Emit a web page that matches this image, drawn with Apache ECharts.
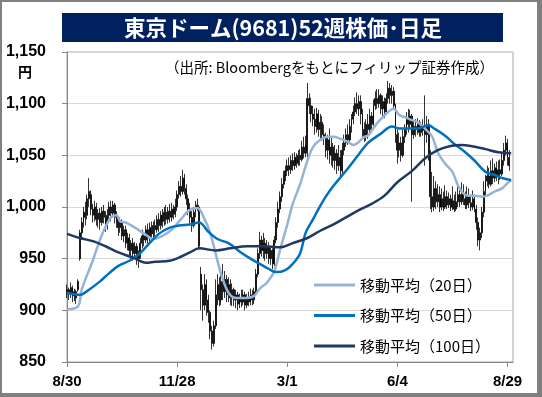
<!DOCTYPE html>
<html>
<head>
<meta charset="utf-8">
<script src="https://cdn.jsdelivr.net/npm/echarts@6/dist/echarts.min.js"></script>
<style>
  html, body { margin: 0; padding: 0; background: #fff; }
  #chart { width: 542px; height: 397px; }
</style>
</head>
<body>
<div id="chart"></div>
<script>
// x axis: one category per trading day, 2018/8/30 .. 2019/8/30 (+ padding)
var dayCount = 244;
var tickEvery = 60;
var tickLabels = ['8/30', '11/28', '3/1', '6/4', '8/29'];

// daily candles [open, close, low, high]
var candlesAutumn = [
  [918,920,912,925],[920,916,910,922],[916,922,912,927],[922,914,908,924],[914,918,909,921],
  [918,912,906,920],[920,928,918,930],[950,975,948,978],[975,985,970,990],[985,995,980,1000],
  [995,990,982,1005],[992,1008,988,1012],[1008,1015,1000,1028],[1012,998,992,1016],[998,992,985,1003],
  [992,1000,986,1006],[1000,988,982,1004],[988,994,980,998],[994,985,978,999],[985,996,982,1000],
  [996,990,984,1002],[990,982,976,996],[982,992,978,998],[992,1000,988,1005],[1000,994,986,1006],
  [994,1002,990,1006],[1002,990,984,1004],[990,985,980,996],[985,980,972,990],[980,985,975,990],
  [985,972,968,988],[972,978,966,982],[978,965,960,982],[965,970,958,975],[970,958,952,974],
  [958,965,950,968],[965,955,948,970],[955,962,950,966],[962,950,944,965],[950,955,941,958],
  [955,965,950,970],[965,972,960,978],[972,968,962,976],[968,978,965,982],[978,970,964,984],
  [970,980,966,985],[980,974,968,986],[974,982,970,986],[982,978,972,988],[978,988,975,992],
  [988,982,976,994],[982,992,978,996],[992,986,980,998],[986,995,982,1000],[995,988,983,1002],
  [988,996,984,1000],[996,990,985,1003],[990,998,986,1004],[998,993,988,1002],[993,1000,990,1008]
];
var candlesWinter = [
  [1000,1012,996,1016],[1012,1020,1008,1025],[1020,1015,1010,1030],[1015,1028,1012,1036],[1028,1018,1012,1032],
  [1018,1008,1002,1022],[1008,998,992,1012],[998,990,984,1004],[990,982,976,996],[982,995,980,1000],
  [995,1000,990,1006],[1000,1002,996,1008],[1000,962,960,1002],[935,920,900,942],[920,905,890,925],
  [905,925,900,935],[925,910,895,930],[910,898,888,915],[898,880,872,900],[880,868,862,885],
  [868,885,865,890],[885,915,882,930],[915,925,905,935],[925,910,904,932],[910,928,905,940],
  [928,918,910,945],[918,930,912,938],[930,915,908,934],[915,925,908,932],[925,912,905,930],
  [912,920,904,926],[920,910,904,922],[910,915,902,920],[915,906,900,918],[906,912,902,916],
  [912,908,903,920],[908,915,905,920],[915,905,900,918],[905,912,902,916],[912,908,904,918],
  [908,915,905,921],[915,910,905,920],[910,918,906,922],[918,935,915,940],[935,955,932,960],
  [955,968,950,976],[968,958,952,972],[958,965,950,975],[965,955,948,970],[955,962,950,968],
  [962,950,945,966],[950,958,944,962],[958,945,940,960],[945,968,943,972],[968,985,965,990],
  [985,998,980,1005],[998,1010,994,1015],[1010,1022,1005,1028],[1022,1030,1018,1035],[1030,1035,1025,1040]
];
var candlesSpring = [
  [1035,1040,1030,1046],[1040,1036,1030,1048],[1036,1045,1032,1050],[1045,1040,1035,1052],[1040,1048,1036,1053],
  [1048,1042,1038,1052],[1042,1050,1040,1055],[1050,1046,1040,1056],[1046,1058,1044,1064],[1058,1052,1047,1068],
  [1052,1060,1048,1069],[1055,1105,1048,1120],[1105,1098,1090,1110],[1098,1090,1082,1106],[1090,1085,1078,1098],
  [1085,1078,1070,1095],[1078,1090,1072,1096],[1090,1075,1068,1094],[1075,1082,1066,1090],[1082,1070,1064,1088],
  [1070,1068,1060,1080],[1068,1055,1048,1072],[1055,1065,1046,1070],[1065,1050,1042,1076],[1050,1058,1040,1068],
  [1058,1045,1038,1062],[1045,1052,1036,1060],[1052,1040,1032,1056],[1040,1048,1035,1060],[1048,1035,1029,1055],
  [1035,1055,1032,1062],[1055,1062,1050,1070],[1062,1070,1058,1076],[1070,1065,1060,1080],[1065,1078,1062,1085],
  [1078,1085,1072,1090],[1085,1092,1080,1098],[1092,1100,1088,1106],[1100,1095,1090,1111],[1095,1102,1088,1108],
  [1102,1090,1080,1108],[1090,1075,1068,1095],[1075,1068,1063,1082],[1068,1080,1064,1085],[1080,1075,1066,1090],
  [1075,1088,1070,1095],[1088,1080,1072,1092],[1080,1098,1078,1104],[1098,1105,1094,1112],[1105,1100,1095,1114],
  [1100,1108,1096,1114],[1108,1095,1090,1110],[1095,1102,1088,1108],[1102,1092,1086,1106],[1092,1105,1090,1110],
  [1105,1115,1100,1122],[1115,1108,1100,1120],[1108,1112,1100,1118],[1112,1098,1094,1116],[1098,1070,1062,1100]
];
var candlesSummer = [
  [1070,1055,1042,1075],[1055,1062,1048,1072],[1062,1050,1044,1068],[1050,1068,1048,1075],[1068,1075,1062,1080],
  [1075,1085,1070,1092],[1085,1080,1072,1095],[1080,1088,1075,1094],[1088,1070,1005,1090],[1070,1078,1066,1084],
  [1078,1075,1068,1085],[1075,1080,1070,1086],[1080,1072,1068,1084],[1072,1078,1068,1082],[1078,1074,1069,1085],
  [1074,1070,1040,1108],[1070,1080,1062,1088],[1080,1050,1045,1085],[1050,1010,998,1055],[1010,1000,995,1034],
  [1000,1018,996,1030],[1018,1005,998,1025],[1005,1012,1000,1022],[1012,1000,995,1020],[1000,1008,997,1018],
  [1008,1000,996,1015],[1000,1010,998,1021],[1010,1002,998,1016],[1002,1008,999,1014],[1008,1000,996,1012],
  [1000,1006,997,1020],[1006,998,995,1012],[998,1005,996,1015],[1005,1012,1000,1024],[1012,1005,1000,1018],
  [1005,1015,1002,1024],[1015,1008,1002,1022],[1008,1002,998,1015],[1002,1010,998,1020],[1010,1004,999,1018],
  [1004,1000,996,1012],[1000,1008,997,1016],[1008,998,995,1012],[998,985,978,1002],[985,968,962,990],
  [968,975,958,980],[975,995,970,1000],[995,1015,990,1025],[1015,1025,1010,1031],[1025,1030,1020,1040],
  [1030,1022,1018,1038],[1022,1035,1020,1045],[1035,1028,1022,1047],[1028,1038,1024,1042],[1038,1030,1025,1044],
  [1030,1036,1022,1045],[1036,1032,1026,1046],[1032,1045,1030,1052],[1045,1055,1040,1062],[1055,1062,1050,1069],
  [1062,1048,1040,1066],[1048,1040,1035,1055]
];

// moving averages, [day index, value]
var ma20 = [[0,901],[6,904],[8,920],[14,948],[19,973],[24,990],[27,992],[29,986],[32,985],[37,980],
  [43,973],[47,969],[52,972],[57,978],[62,988],[66,996],[71,999],[75,988],[78,975],[81,955],
  [84,935],[88,917],[92,912],[98,912],[102,914],[105,921],[109,927],[113,938],[116,958],[120,983],
  [123,1003],[127,1022],[131,1045],[134,1058],[138,1065],[142,1068],[145,1068],[149,1066],[153,1063],[156,1060],
  [159,1063],[162,1068],[164,1069],[168,1079],[171,1085],[175,1092],[178,1095],[181,1089],[184,1087],[188,1084],
  [191,1082],[195,1076],[199,1068],[202,1053],[206,1042],[210,1034],[213,1021],[216,1013],[219,1011],[222,1011],
  [226,1010],[229,1011],[233,1015],[237,1018],[240,1023],[242,1026]];
var ma50 = [[0,917],[7,915],[12,920],[18,928],[23,936],[28,943],[34,948],[39,954],[45,965],[50,974],
  [56,980],[61,982],[67,983],[72,985],[77,976],[82,969],[88,965],[94,957],[100,950],[105,945],
  [110,940],[114,937],[119,939],[123,945],[127,955],[130,975],[134,988],[137,998],[141,1010],[145,1020],
  [152,1035],[159,1051],[164,1062],[171,1071],[177,1078],[181,1076],[186,1076],[191,1076],[197,1079],[200,1076],
  [206,1069],[211,1061],[217,1053],[222,1045],[228,1034],[233,1031],[237,1028],[242,1026]];
var ma100 = [[0,974],[7,970],[14,967],[21,962],[28,956],[36,951],[43,946],[48,947],[56,948],[61,951],
  [67,956],[72,960],[81,958],[89,960],[98,962],[107,962],[116,961],[123,965],[131,970],[138,977],
  [145,983],[152,990],[159,997],[166,1003],[173,1011],[180,1024],[188,1035],[195,1047],[202,1055],[209,1059],
  [215,1060],[220,1059],[228,1056],[235,1053],[242,1052]];

var seriesNames = ['移動平均（20日）', '移動平均（50日）', '移動平均（100日）'];
var seriesColors = ['#95b3d7', '#0070c0', '#1f3864'];

var days = [];
for (var i = 0; i < dayCount; i++) days.push(String(i));
var candles = candlesAutumn.concat(candlesWinter, candlesSpring, candlesSummer);

var chart = echarts.init(document.getElementById('chart'));
var jp = '"Noto Sans CJK JP", sans-serif';

function maSeries(idx, data) {
    return {
        name: seriesNames[idx],
        type: 'line',
        data: data,
        smooth: 0.35,
        symbol: 'none',
        z: 5,
        lineStyle: {color: seriesColors[idx], width: 2.5},
        itemStyle: {color: seriesColors[idx]}
    };
}

chart.setOption({
    animation: false,
    backgroundColor: '#fff',
    graphic: [
        {type: 'rect', z: -10, shape: {x: 0, y: 0, width: 542, height: 2}, style: {fill: '#808080'}},
        {type: 'rect', z: -10, shape: {x: 0, y: 0, width: 2, height: 397}, style: {fill: '#808080'}},
        {type: 'rect', z: -10, shape: {x: 537, y: 0, width: 5, height: 397}, style: {fill: '#808080'}},
        {type: 'rect', z: -10, shape: {x: 0, y: 393, width: 542, height: 4}, style: {fill: '#808080'}},
        {type: 'rect', shape: {x: 62, y: 13, width: 441, height: 29}, style: {fill: '#002060'}},
        {type: 'text', x: 283, y: 28, style: {
            text: '東京ドーム(9681)52週株価･日足', fill: '#fff', font: 'bold 21.5px ' + jp,
            align: 'center', verticalAlign: 'middle'}},
        {type: 'text', x: 494, y: 67, style: {
            text: '（出所: Bloombergをもとにフィリップ証券作成）', fill: '#000', font: '14.5px ' + jp,
            align: 'right', verticalAlign: 'middle'}},
        {type: 'text', x: 25, y: 72, style: {
            text: '円', fill: '#000', font: 'bold 14px ' + jp,
            align: 'center', verticalAlign: 'middle'}}
    ],
    grid: {left: 67, right: 29, top: 52, bottom: 35, show: true, borderColor: '#a6a6a6', borderWidth: 1},
    legend: {
        data: seriesNames,
        orient: 'vertical',
        left: 309,
        top: 270,
        icon: 'rect',
        itemWidth: 41,
        itemHeight: 3,
        itemGap: 10.5,
        textStyle: {fontFamily: jp, fontSize: 15, color: '#000', lineHeight: 20}
    },
    xAxis: {
        type: 'category',
        data: days,
        boundaryGap: false,
        axisLine: {lineStyle: {color: '#868686'}},
        axisTick: {
            length: 5, lineStyle: {color: '#868686'},
            interval: function (idx) { return idx % tickEvery === 0; }
        },
        axisLabel: {
            interval: function (idx) { return idx % tickEvery === 0; },
            formatter: function (v, idx) { return tickLabels[idx / tickEvery] || ''; },
            margin: 12,
            color: '#000',
            fontWeight: 'bold',
            fontSize: 15,
            fontFamily: 'Liberation Sans'
        },
        splitLine: {show: false}
    },
    yAxis: {
        type: 'value',
        min: 850,
        max: 1150,
        interval: 50,
        axisLine: {show: true, lineStyle: {color: '#868686'}},
        axisTick: {show: true, length: 5, lineStyle: {color: '#868686'}},
        axisLabel: {
            margin: 21,
            color: '#000',
            fontWeight: 'bold',
            fontSize: 16,
            fontFamily: 'Liberation Sans',
            formatter: function (v) { return v.toLocaleString('en-US'); }
        },
        splitLine: {lineStyle: {color: '#d9d9d9'}}
    },
    series: [
        {
            name: '株価',
            type: 'candlestick',
            data: candles,
            barWidth: 1.4,
            z: 2,
            itemStyle: {color: '#000', color0: '#000', borderColor: '#000', borderColor0: '#000', borderWidth: 0.8}
        },
        maSeries(0, ma20),
        maSeries(1, ma50),
        maSeries(2, ma100)
    ]
});
</script>
</body>
</html>
